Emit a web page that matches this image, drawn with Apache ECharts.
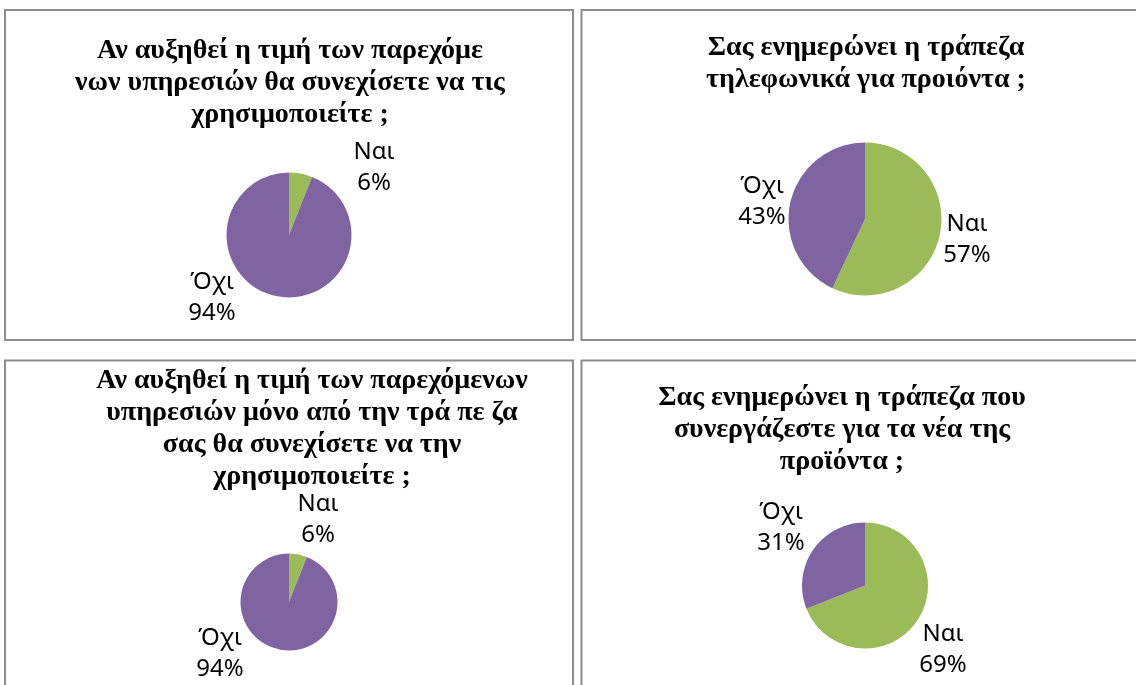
<!DOCTYPE html>
<html>
<head>
<meta charset="utf-8">
<script src="https://cdn.jsdelivr.net/npm/echarts@6/dist/echarts.min.js"></script>
<style>
  html, body { margin: 0; padding: 0; background: #fff; }
  #chart { width: 1136px; height: 685px; }
</style>
</head>
<body>
<div id="chart"></div>
<script>
// Answer categories shared by all four questions
const categories = ['Ναι', 'Όχι'];

// Share of answers (%) per question
const sharesPriceRise = [6, 94];
const sharesPhoneInfo = [57, 43];
const sharesPriceRiseOwnBank = [6, 94];
const sharesNewProducts = [69, 31];

// Question titles (line breaks as printed)
const titlePriceRise = 'Αν αυξηθεί η τιμή των παρεχόμε\nνων υπηρεσιών θα συνεχίσετε να τις\nχρησιμοποιείτε ;';
const titlePhoneInfo = 'Σας ενημερώνει η τράπεζα\nτηλεφωνικά για προιόντα ;';
const titlePriceRiseOwnBank = 'Αν αυξηθεί η τιμή των παρεχόμενων\nυπηρεσιών μόνο από την τρά πε ζα\nσας θα συνεχίσετε να την\nχρησιμοποιείτε ;';
const titleNewProducts = 'Σας ενημερώνει η τράπεζα που\nσυνεργάζεστε για τα νέα της\nπροϊόντα ;';

const COLORS = ['#9BBB59', '#8064A2'];

// Panel layout: frame, title anchor, pie centre/radius, label offsets from the pie centre
const panels = [
  { title: titlePriceRise, values: sharesPriceRise,
    frame: [5, 10, 568, 330], titleX: 290, titleY: 35,
    center: [289, 235], radius: 62.5,
    labelOffsets: [[85, -67], [-77, 63]] },
  { title: titlePhoneInfo, values: sharesPhoneInfo,
    frame: [581.5, 10, 620, 330], titleX: 866, titleY: 32,
    center: [865, 219], radius: 76.5,
    labelOffsets: [[102, 21], [-103, -17]] },
  { title: titlePriceRiseOwnBank, values: sharesPriceRiseOwnBank,
    frame: [5, 360.5, 568, 400], titleX: 312, titleY: 365,
    center: [289, 602], radius: 48.5,
    labelOffsets: [[29, -82], [-69, 52]] },
  { title: titleNewProducts, values: sharesNewProducts,
    frame: [581.5, 360.5, 620, 400], titleX: 842, titleY: 382,
    center: [865, 585.5], radius: 63,
    labelOffsets: [[78, 64], [-84, -58]] }
];

const chart = echarts.init(document.getElementById('chart'), null, { renderer: 'canvas' });

const option = {
  backgroundColor: '#ffffff',
  animation: false,
  color: COLORS,
  title: panels.map(p => ({
    text: p.title,
    left: p.titleX,
    top: p.titleY,
    textAlign: 'center',
    padding: 0,
    textStyle: {
      fontFamily: '"Liberation Serif", "DejaVu Serif", serif',
      fontWeight: 'bold',
      fontSize: 28,
      lineHeight: 32,
      color: '#000000'
    }
  })),
  graphic: panels.map(p => ({
    type: 'rect',
    silent: true,
    shape: { x: p.frame[0], y: p.frame[1], width: p.frame[2], height: p.frame[3] },
    style: { fill: 'none', stroke: '#8c8c8c', lineWidth: 2 }
  })),
  series: panels.map(p => ({
    type: 'pie',
    center: p.center,
    radius: p.radius,
    startAngle: 90,
    clockwise: true,
    avoidLabelOverlap: false,
    itemStyle: { borderWidth: 0 },
    emphasis: { disabled: true },
    label: {
      show: true,
      position: 'outside',
      formatter: d => d.name + '\n' + Math.round(d.percent) + '%',
      fontFamily: '"Noto Sans", "Open Sans", sans-serif',
      fontSize: 24,
      lineHeight: 31,
      color: '#000000'
    },
    labelLine: { show: false },
    labelLayout: params => {
      const off = p.labelOffsets[params.dataIndex];
      return {
        x: p.center[0] + off[0],
        y: p.center[1] + off[1],
        align: 'center',
        verticalAlign: 'middle'
      };
    },
    data: categories.map((name, i) => ({ name: name, value: p.values[i] }))
  }))
};

chart.setOption(option);
</script>
</body>
</html>
